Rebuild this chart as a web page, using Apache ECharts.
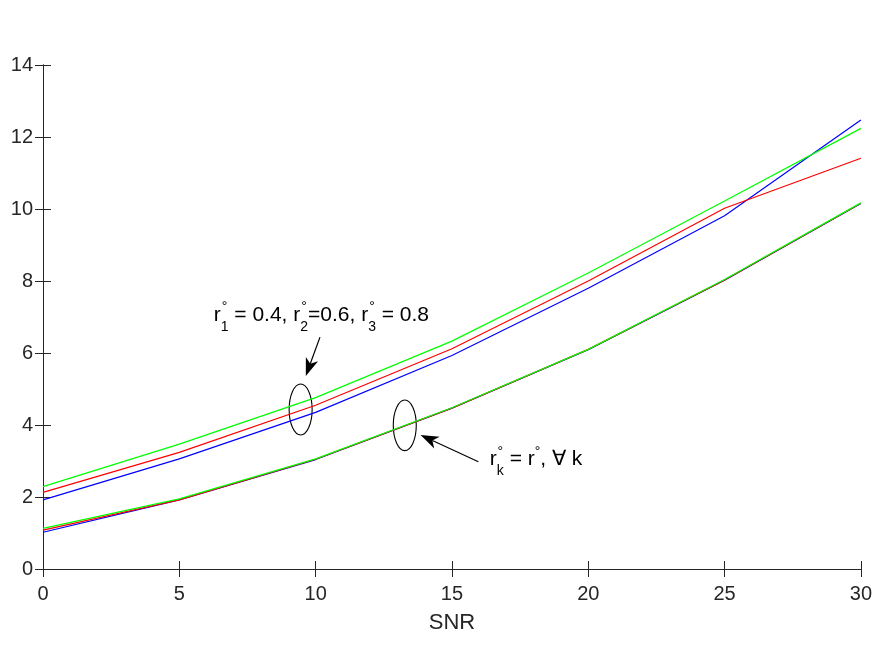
<!DOCTYPE html>
<html>
<head>
<meta charset="utf-8">
<script src="https://cdn.jsdelivr.net/npm/echarts@6/dist/echarts.min.js"></script>
<style>
  html, body { margin: 0; padding: 0; background: #fff; }
  #chart { width: 875px; height: 657px; }
</style>
</head>
<body>
<div id="chart"></div>
<script>
  // data
  const snr = [0, 5, 10, 15, 20, 25, 30]
  const distBlue  = [1.92, 3.06, 4.35, 5.93, 7.80, 9.81, 12.47]
  const distRed   = [2.13, 3.24, 4.55, 6.12, 8.00, 10.02, 11.41]
  const distGreen = [2.29, 3.47, 4.76, 6.33, 8.22, 10.22, 12.24]
  const eqBlue    = [1.02, 1.92, 3.04, 4.47, 6.09, 8.02, 10.15]
  const eqRed     = [1.08, 1.92, 3.05, 4.47, 6.10, 8.03, 10.16]
  const eqGreen   = [1.13, 1.95, 3.06, 4.48, 6.10, 8.04, 10.17]

  const FONT = 'Liberation Sans, Arial, Helvetica, sans-serif'
  const AXIS_COLOR = '#262626'

  let chart = echarts.init(document.getElementById('chart'))

  function pairs (ys) {
    return snr.map((x, i) => [x, ys[i]])
  }
  function line (name, color, ys) {
    return {
      name: name,
      type: 'line',
      data: pairs(ys),
      symbol: 'none',
      lineStyle: { color: color, width: 1.2 },
      itemStyle: { color: color },
      animation: false
    }
  }

  let hiddenAxis = {
    axisLine: { show: true, lineStyle: { color: AXIS_COLOR, width: 1 } },
    axisTick: { show: true, inside: true, length: 8, lineStyle: { color: AXIS_COLOR } },
    axisLabel: { show: false },
    splitLine: { show: false }
  }

  let option = {
    backgroundColor: '#fff',
    animation: false,
    grid: { left: 43, right: 8, top: 65, bottom: 88, containLabel: false },
    xAxis: [
      {
        type: 'value',
        min: 0, max: 30, interval: 5,
        name: 'SNR',
        nameLocation: 'middle',
        nameGap: 43,
        nameTextStyle: { fontFamily: FONT, fontSize: 22, color: AXIS_COLOR },
        axisLine: { show: true, onZero: false, lineStyle: { color: AXIS_COLOR, width: 1 } },
        axisTick: { show: true, inside: true, length: 8, lineStyle: { color: AXIS_COLOR } },
        axisLabel: { fontFamily: FONT, fontSize: 20, color: AXIS_COLOR, margin: 15, showMaxLabel: true },
        splitLine: { show: false }
      },
      Object.assign({ type: 'value', position: 'top', min: 0, max: 30, interval: 5 }, hiddenAxis)
    ],
    yAxis: [
      {
        type: 'value',
        min: 0, max: 14, interval: 2,
        axisLine: { show: true, onZero: false, lineStyle: { color: AXIS_COLOR, width: 1 } },
        axisTick: { show: true, inside: true, length: 8, lineStyle: { color: AXIS_COLOR } },
        axisLabel: { fontFamily: FONT, fontSize: 20, color: AXIS_COLOR, margin: 10 },
        splitLine: { show: false }
      },
      Object.assign({ type: 'value', position: 'right', min: 0, max: 14, interval: 2 }, hiddenAxis)
    ],
    series: [
      line('dist blue', '#0000ff', distBlue),
      line('dist red', '#ff0000', distRed),
      line('dist green', '#00ff00', distGreen),
      line('eq blue', '#0000ff', eqBlue),
      line('eq red', '#ff0000', eqRed),
      line('eq green', '#00ff00', eqGreen)
    ]
  }

  chart.setOption(option)

  // ---- annotations (ellipses, arrows, labels) ----
  function px (pt) {
    return chart.convertToPixel({ xAxisIndex: 0, yAxisIndex: 0 }, pt)
  }

  let measureCtx = document.createElement('canvas').getContext('2d')
  function textWidth (s, size) {
    measureCtx.font = size + 'px ' + FONT
    return measureCtx.measureText(s).width
  }

  const MAIN = 21
  const SMALL = 14
  // parts: strings are normal text, arrays [sup, sub] are stacked indices
  function richLabel (parts, baseAt) {
    let p = px(baseAt)
    let x = p[0]
    let base = p[1]
    let els = []
    function put (s, cx, cy, sz, align) {
      els.push({
        type: 'text',
        x: cx, y: cy,
        style: {
          text: s,
          font: sz + 'px ' + FONT,
          fill: '#000',
          align: align || 'left',
          verticalAlign: 'middle'
        }
      })
    }
    parts.forEach(part => {
      if (typeof part === 'string') {
        put(part, x, base - 7.5, MAIN)
        x += textWidth(part, MAIN)
      } else {
        let w = Math.max(textWidth(part[0], SMALL), textWidth(part[1] || '', SMALL))
        put(part[0], x + w / 2, base - 15, SMALL, 'center')
        if (part[1]) put(part[1], x + w / 2, base + 4.5, SMALL, 'center')
        x += w
      }
    })
    return els
  }

  function ellipse (center, rx, ry) {
    let c = px(center)
    return {
      type: 'ellipse',
      shape: { cx: c[0], cy: c[1], rx: rx, ry: ry },
      style: { fill: 'none', stroke: '#000', lineWidth: 1.1 }
    }
  }

  function arrow (from, to) {
    let a = px(from)
    let b = px(to)
    let dx = b[0] - a[0]
    let dy = b[1] - a[1]
    let len = Math.sqrt(dx * dx + dy * dy)
    let ux = dx / len
    let uy = dy / len
    let headLen = 18
    let headW = 6.5
    let bx = b[0] - ux * headLen
    let by = b[1] - uy * headLen
    return [
      {
        type: 'line',
        shape: { x1: a[0], y1: a[1], x2: bx + ux * 5, y2: by + uy * 5 },
        style: { stroke: '#000', lineWidth: 1.2 }
      },
      {
        type: 'polygon',
        shape: {
          points: [
            [b[0], b[1]],
            [bx - uy * headW, by + ux * headW],
            [bx + ux * 5, by + uy * 5],
            [bx + uy * headW, by - ux * headW]
          ]
        },
        style: { fill: '#000' }
      }
    ]
  }

  let deg = '\u00b0'
  let graphics = [].concat(
    ellipse([9.45, 4.43], 11.5, 25.5),
    ellipse([13.27, 3.99], 11.5, 25.3),
    arrow([10.16, 6.44], [9.64, 5.36]),
    arrow([15.97, 2.98], [13.85, 3.72]),
    richLabel(['r', [deg, '1'], ' = 0.4, r', [deg, '2'], '=0.6, r', [deg, '3'], ' = 0.8'], [6.26, 6.853]),
    richLabel(['r', [deg, 'k'], ' = r', [deg, ''], ', \u2200 k'], [16.39, 2.842])
  )

  chart.setOption({ graphic: graphics })
</script>
</body>
</html>
